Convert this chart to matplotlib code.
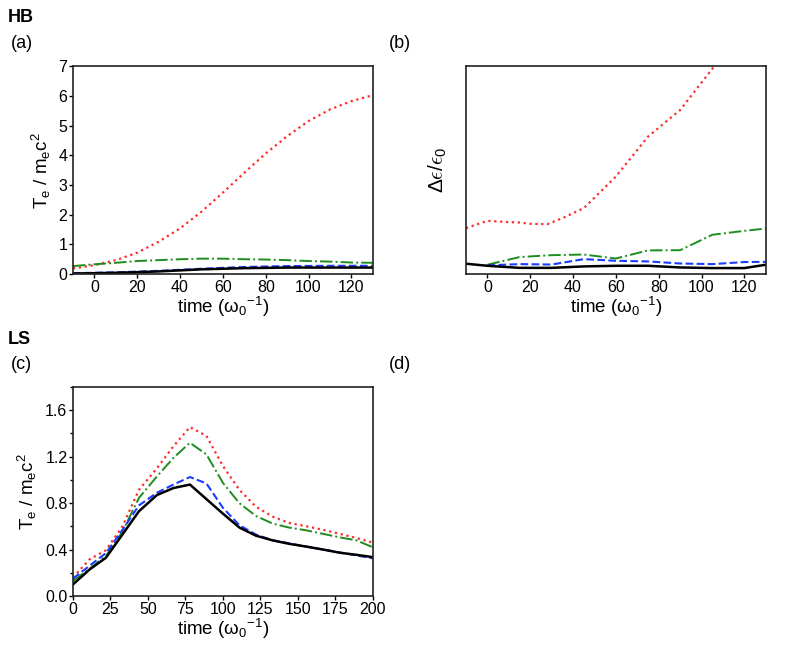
import matplotlib
matplotlib.use('Agg')
import matplotlib.pyplot as plt
from matplotlib.ticker import MultipleLocator

plt.rcParams['font.family'] = ['Liberation Sans', 'DejaVu Sans']
plt.rcParams['mathtext.default'] = 'regular'

# ---- HB (a): electron temperature ----
t_a = [-10, 0, 10, 20, 30, 40, 50, 60, 70, 80, 90, 100, 110, 120, 130]
red_a = [0.19, 0.30, 0.47, 0.72, 1.09, 1.54, 2.10, 2.74, 3.41, 4.06, 4.64, 5.15, 5.54, 5.82, 6.02]
green_a = [0.27, 0.33, 0.38, 0.44, 0.47, 0.50, 0.52, 0.52, 0.50, 0.49, 0.47, 0.44, 0.42, 0.39, 0.38]
blue_a = [0.03, 0.045, 0.06, 0.085, 0.11, 0.145, 0.18, 0.21, 0.24, 0.255, 0.27, 0.275, 0.28, 0.28, 0.28]
black_a = [0.02, 0.03, 0.045, 0.065, 0.09, 0.125, 0.16, 0.18, 0.20, 0.21, 0.22, 0.22, 0.22, 0.22, 0.22]

# ---- HB (b): energy change (no scale given, fraction of panel height) ----
t_b = [-10, 0, 10, 15, 20, 28, 35, 45, 60, 75, 90, 106, 120, 130]
red_b = [0.221, 0.256, 0.25, 0.248, 0.242, 0.24, 0.269, 0.317, 0.469, 0.661, 0.789, 1.0, 1.17, 1.3]
t_b2 = [0, 15, 30, 45, 60, 75, 90, 105, 120, 130]
green_b = [0.045, 0.082, 0.091, 0.094, 0.075, 0.114, 0.115, 0.189, 0.208, 0.219]
blue_b = [0.042, 0.048, 0.046, 0.072, 0.064, 0.061, 0.051, 0.048, 0.058, 0.059]
t_b3 = [-10, 0, 15, 30, 45, 60, 75, 90, 105, 120, 130]
black_b = [0.05, 0.04, 0.03, 0.03, 0.037, 0.04, 0.04, 0.032, 0.029, 0.029, 0.045]

# ---- LS (c): electron temperature ----
t_c = [0, 11, 22, 33, 44, 56, 67, 78, 89, 100, 111, 122, 133, 144, 156, 167, 178, 189, 200]
red_c = [0.16, 0.315, 0.395, 0.6, 0.915, 1.1, 1.29, 1.455, 1.38, 1.12, 0.915, 0.77,
         0.685, 0.63, 0.6, 0.57, 0.535, 0.5, 0.46]
green_c = [0.13, 0.235, 0.345, 0.555, 0.845, 1.03, 1.19, 1.32, 1.22, 0.975, 0.8, 0.69,
           0.625, 0.59, 0.565, 0.535, 0.505, 0.48, 0.42]
blue_c = [0.15, 0.26, 0.37, 0.57, 0.78, 0.89, 0.96, 1.025, 0.97, 0.76, 0.61, 0.53,
          0.48, 0.455, 0.425, 0.4, 0.375, 0.35, 0.325]
black_c = [0.1, 0.228, 0.33, 0.53, 0.73, 0.87, 0.93, 0.96, 0.835, 0.71, 0.59, 0.52,
           0.48, 0.45, 0.425, 0.4, 0.373, 0.355, 0.335]

RED = '#ff2a2a'
GREEN = '#1e8c1e'
BLUE = '#1a3cff'

xlabel = 'time (ω$_0$$^{-1}$)'
ylabel_T = 'T$_e$ / m$_e$c$^2$'


def style_axes(ax):
    for s in ax.spines.values():
        s.set_linewidth(1.2)
        s.set_color('#222222')
    ax.tick_params(direction='out', length=3, width=1, labelsize=11.5, pad=1)
    ax.tick_params(which='minor', direction='out', length=2, width=1)


def draw_lines(ax, tr, r, tg, g, tb, b, tk, k):
    ax.plot(tr, r, color=RED, ls=':', lw=1.6)
    ax.plot(tg, g, color=GREEN, ls='-.', lw=1.4)
    ax.plot(tb, b, color=BLUE, ls='--', lw=1.5)
    ax.plot(tk, k, color='black', ls='-', lw=1.8)


fig = plt.figure(figsize=(7.89, 6.48), dpi=100)

ax_a = fig.add_axes([0.0925, 0.577, 0.380, 0.321])
draw_lines(ax_a, t_a, red_a, t_a, green_a, t_a, blue_a, t_a, black_a)
ax_a.set_xlim(-10, 130)
ax_a.set_ylim(0, 7)
ax_a.set_xticks(range(0, 121, 20))
ax_a.set_yticks(range(0, 8))
ax_a.set_xlabel(xlabel, fontsize=13.5, labelpad=0)
ax_a.set_ylabel(ylabel_T, fontsize=13.5, labelpad=4)
style_axes(ax_a)

ax_b = fig.add_axes([0.5906, 0.577, 0.380, 0.321])
draw_lines(ax_b, t_b, red_b, t_b2, green_b, t_b2, blue_b, t_b3, black_b)
ax_b.set_xlim(-10, 130)
ax_b.set_ylim(0, 1)
ax_b.set_xticks(range(0, 121, 20))
ax_b.set_yticks([])
ax_b.set_xlabel(xlabel, fontsize=13.5, labelpad=0)
ax_b.set_ylabel(r'$\Delta\mathit{\epsilon}/\mathit{\epsilon}_0$', fontsize=15, labelpad=12,
                math_fontfamily='cm')
style_axes(ax_b)

ax_c = fig.add_axes([0.0925, 0.0802, 0.380, 0.3225])
draw_lines(ax_c, t_c, red_c, t_c, green_c, t_c, blue_c, t_c, black_c)
ax_c.set_xlim(0, 200)
ax_c.set_ylim(0, 1.8)
ax_c.set_xticks(range(0, 201, 25))
ax_c.set_yticks([0.0, 0.4, 0.8, 1.2, 1.6])
ax_c.set_yticklabels(['0.0', '0.4', '0.8', '1.2', '1.6'])
ax_c.yaxis.set_minor_locator(MultipleLocator(0.2))
ax_c.set_xlabel(xlabel, fontsize=13.5, labelpad=0)
ax_c.set_ylabel(ylabel_T, fontsize=13.5, labelpad=4)
style_axes(ax_c)

# panel titles
fig.text(8 / 789, 1 - 18 / 648, 'HB', fontsize=13, fontweight='bold', va='center')
fig.text(11 / 789, 1 - 44 / 648, '(a)', fontsize=13, va='center')
fig.text(389 / 789, 1 - 44 / 648, '(b)', fontsize=13, va='center')
fig.text(8 / 789, 1 - 340 / 648, 'LS', fontsize=13, fontweight='bold', va='center')
fig.text(11 / 789, 1 - 365 / 648, '(c)', fontsize=13, va='center')
fig.text(389 / 789, 1 - 365 / 648, '(d)', fontsize=13, va='center')

fig.savefig('out.png', dpi=100)
